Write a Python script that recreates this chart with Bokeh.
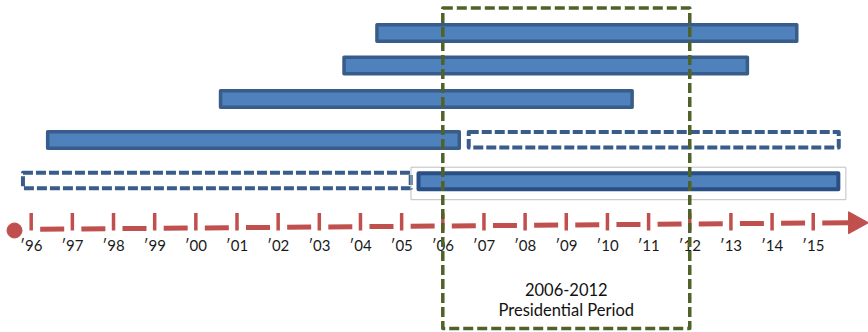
from bokeh.plotting import figure
from bokeh.models import Range1d, ColumnDataSource
from bokeh.core.properties import value
from bokeh.embed import file_html
from bokeh.resources import INLINE

# ---- data ----
years = list(range(1996, 2016))
year_labels = ["\u2032" + str(y)[2:] for y in years]

bar_start = [2004.4, 2003.6, 2000.6, 1996.4]
bar_end = [2014.6, 2013.4, 2010.6, 2006.4]
bar_lane = [32.5, 65.0, 98.6, 139.5]

planned_start = [2006.63, 1995.8]
planned_end = [2015.62, 2005.22]
planned_lane = [139.3, 180.0]

selected_start = [2005.41]
selected_end = [2015.61]
selected_lane = [180.7]

period_start = 2006
period_end = 2012
period_text = ["2006-2012", "Presidential Period"]

# ---- figure ----
PX_PER_YEAR = 41.16
X0 = 1996 - 30.7 / PX_PER_YEAR
X1 = 1996 + (868 - 30.7) / PX_PER_YEAR

p = figure(width=868, height=332, x_range=Range1d(X0, X1), y_range=Range1d(332, 0),
           output_backend="svg", toolbar_location=None, min_border=0,
           x_axis_type=None, y_axis_type=None)
p.outline_line_color = None
p.grid.visible = False
p.background_fill_color = "white"
p.border_fill_color = "white"

BAR_H = 16.5
BLUE_FILL = "#4F81BD"
BLUE_LINE = "#385D8A"
RED = "#C0504D"
GREEN = "#4F6228"

# solid bars
src = ColumnDataSource(dict(left=bar_start, right=bar_end,
                            top=[l - BAR_H / 2 for l in bar_lane],
                            bottom=[l + BAR_H / 2 for l in bar_lane]))
p.quad(left="left", right="right", top="top", bottom="bottom", source=src,
       fill_color=BLUE_FILL, line_color=BLUE_LINE, line_width=3.5, line_join="round")

# planned (dashed) bars
psrc = ColumnDataSource(dict(left=planned_start, right=planned_end,
                             top=[l - 15.5 / 2 for l in planned_lane],
                             bottom=[l + 15.5 / 2 for l in planned_lane]))
p.quad(left="left", right="right", top="top", bottom="bottom", source=psrc,
       fill_color="white", line_color=BLUE_LINE, line_width=4, line_dash="10 3",
       line_join="round")

# selected bar with light selection frame
pad_x = 7.5 / PX_PER_YEAR
p.quad(left=[s - pad_x for s in selected_start], right=[e + pad_x for e in selected_end],
       top=[l - 14 for l in selected_lane], bottom=[l + 18.5 for l in selected_lane],
       fill_color=None, line_color="#BFBFBF", line_width=1)
ssrc = ColumnDataSource(dict(left=selected_start, right=selected_end,
                             top=[l - 16 / 2 for l in selected_lane],
                             bottom=[l + 16 / 2 for l in selected_lane]))
p.quad(left="left", right="right", top="top", bottom="bottom", source=ssrc,
       fill_color=BLUE_FILL, line_color="#2A4F85", line_width=4, line_join="round")

# ---- time axis ----
def base_y(x):
    return 228.8 - 0.33 * (x - 1996)

seg_x0 = [y + 9 / PX_PER_YEAR for y in years]
seg_x1 = [y + 33 / PX_PER_YEAR for y in years[:-1]] + [years[-1] + (848 - 812.7) / PX_PER_YEAR]
p.segment(x0=seg_x0, x1=seg_x1, y0=[base_y(x) for x in seg_x0], y1=[base_y(x) for x in seg_x1],
          line_color=RED, line_width=5, line_cap="butt")
p.segment(x0=years, x1=years, y0=[212.5] * len(years), y1=[230] * len(years),
          line_color=RED, line_width=3.5, line_cap="butt")

tip0 = seg_x1[-1]
tip1 = X1
yc = base_y(tip0)
p.patch(x=[tip0, tip0, tip1], y=[yc - 11, yc + 11, yc], fill_color=RED, line_color=RED)
p.scatter(x=[years[0] - 16.7 / PX_PER_YEAR], y=[230], size=15, fill_color=RED, line_color=RED)

p.text(x=years, y=[244] * len(years), text=year_labels, text_font=value("Lato"),
       text_font_size="15px", text_align="center", text_baseline="middle", text_color="#1a1a1a")

# ---- presidential period box ----
p.quad(left=[period_start], right=[period_end], top=[7.5], bottom=[328],
       fill_color=None, line_color=GREEN, line_width=3.5, line_dash="10 4", line_join="round")
mid = (period_start + period_end) / 2
p.text(x=[mid, mid], y=[289, 309.5], text=period_text, text_font=value("Lato"),
       text_font_size="16.5px", text_align="center", text_baseline="middle", text_color="#111111")

open("out.html", "w").write(file_html(p, INLINE))
